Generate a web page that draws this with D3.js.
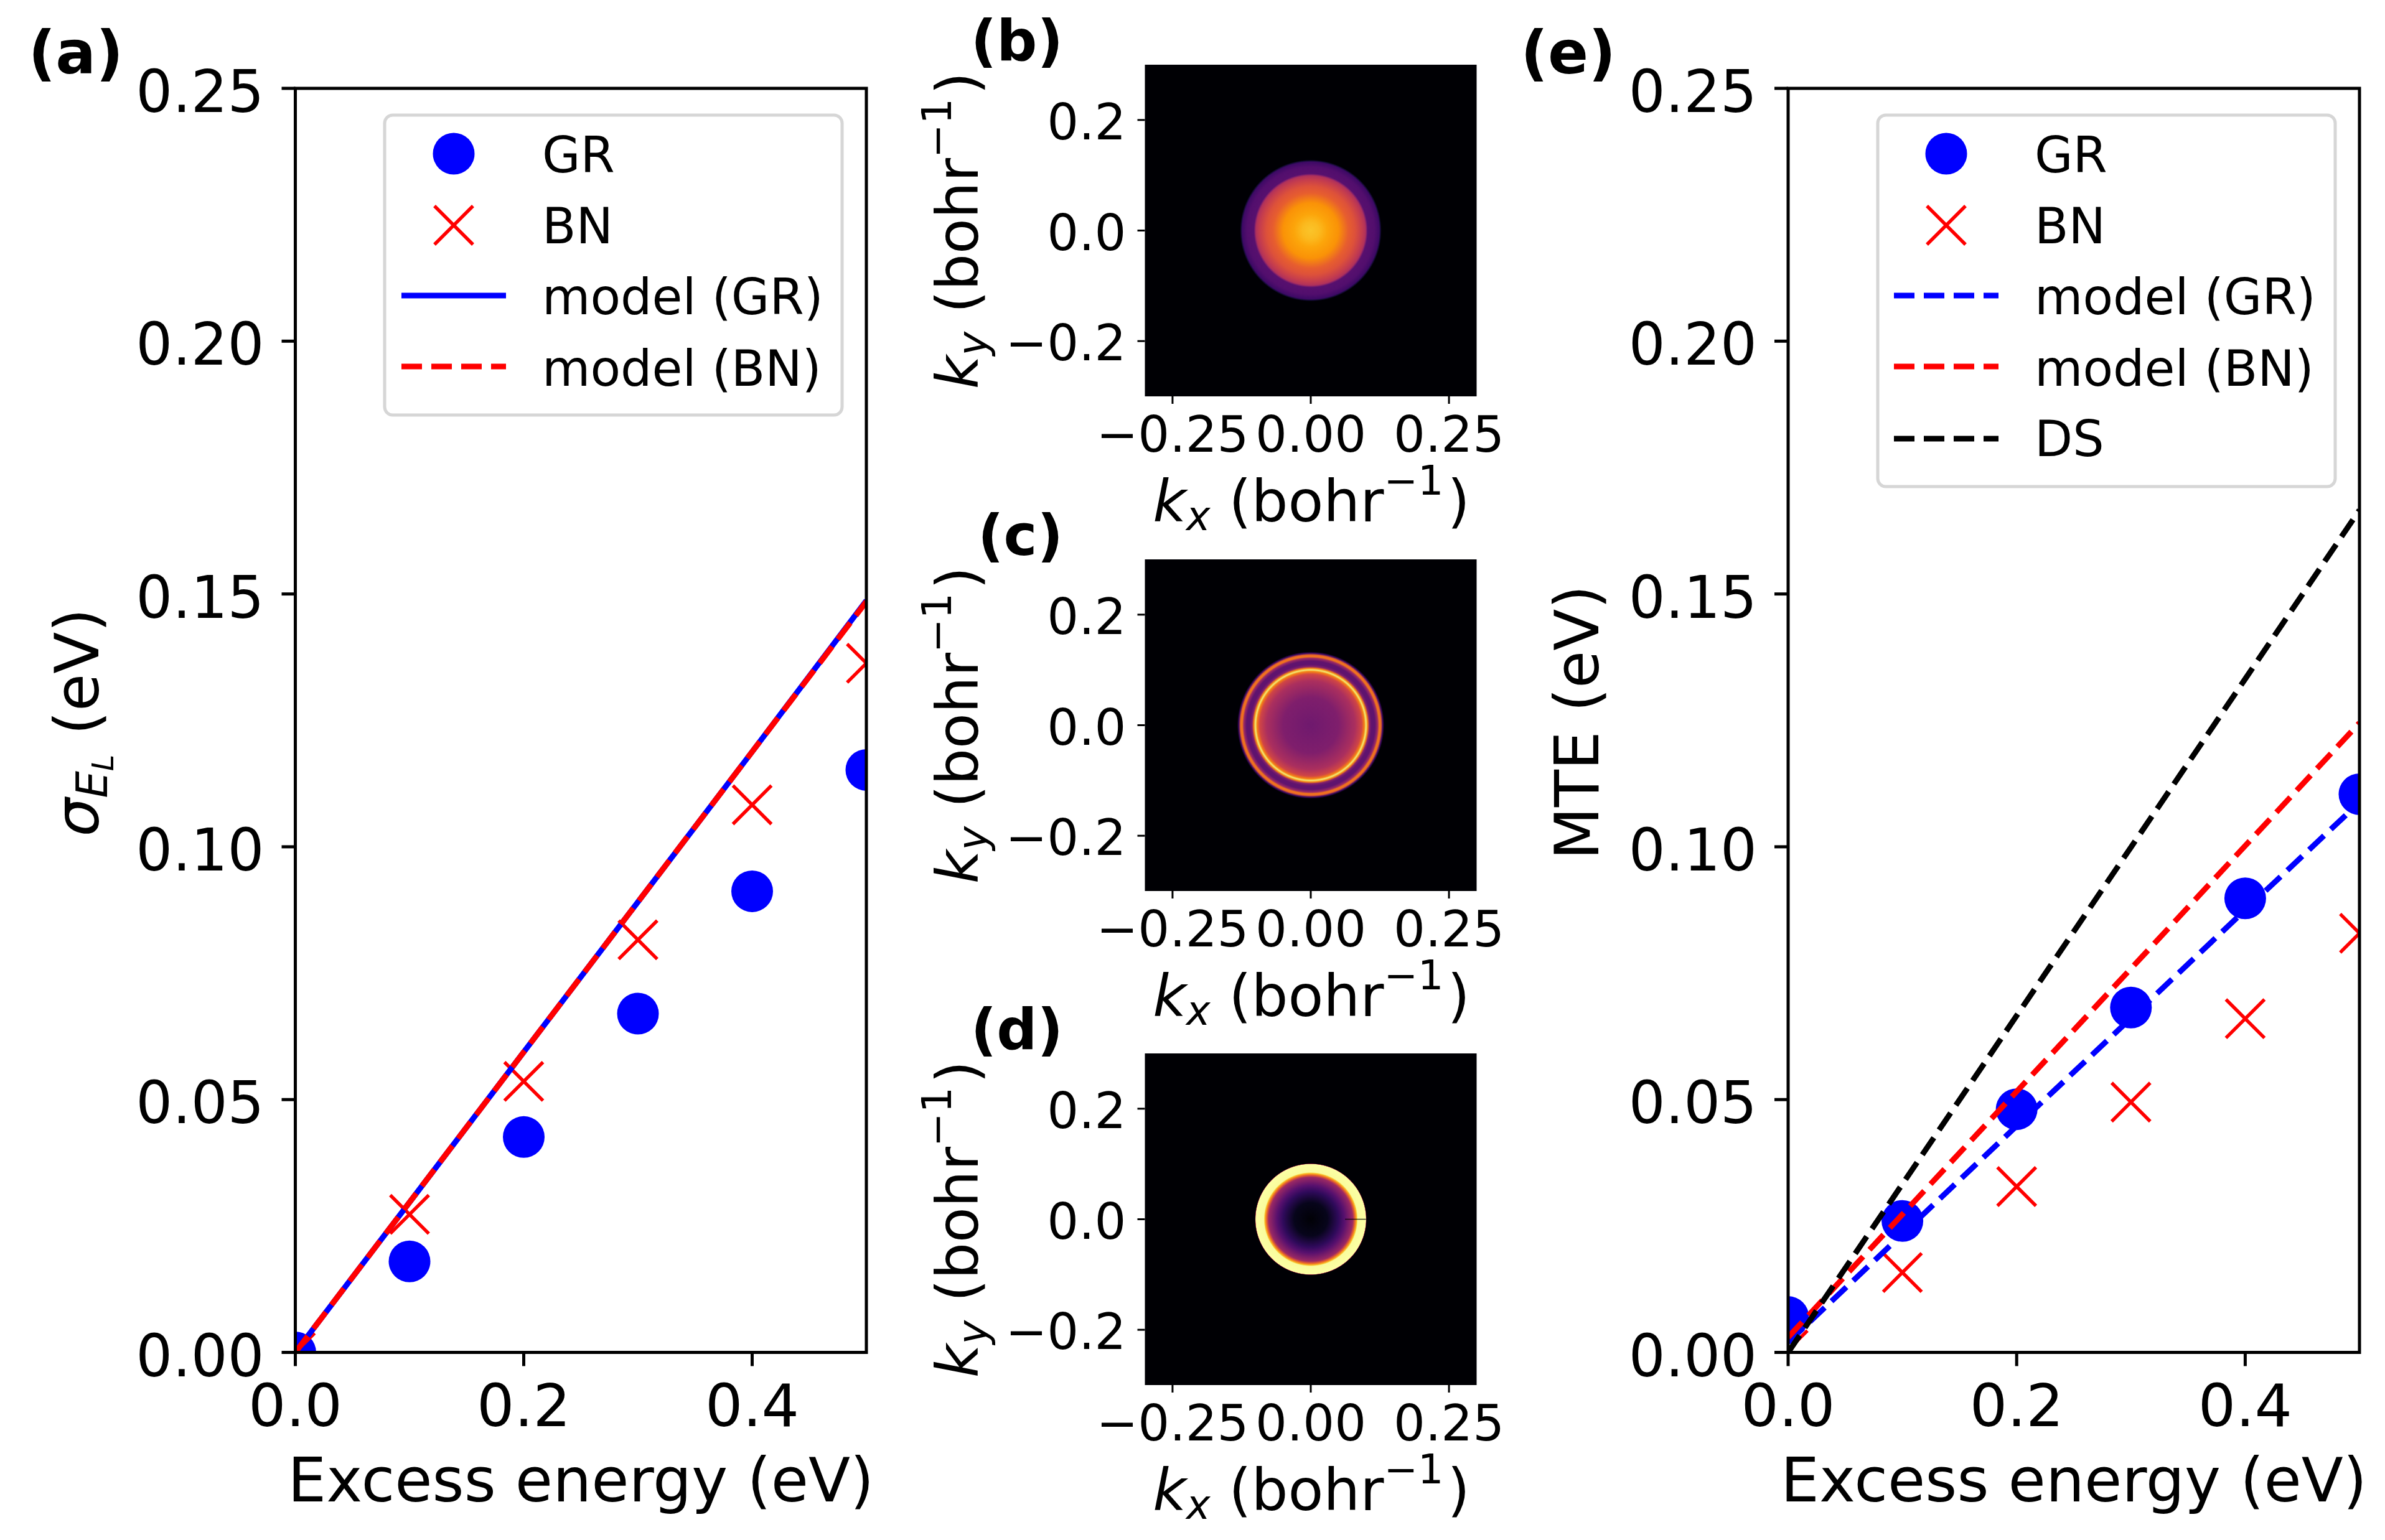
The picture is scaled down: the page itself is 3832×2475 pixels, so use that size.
<!DOCTYPE html>
<html>
<head>
<meta charset="utf-8">
<script src="https://cdn.jsdelivr.net/npm/d3@7"></script>
<style>
  html, body { margin: 0; background: #fff; }
  svg { display: block; }
  text { font-family: "DejaVu Sans"; fill: #000; white-space: pre; }
</style>
</head>
<body>
<div id="chart"></div>
<script>
// excess energy samples
const energy = [0, 0.1, 0.2, 0.3, 0.4, 0.5];

// panel (a)
const sigmaGR = [0.0, 0.018, 0.0426, 0.067, 0.0912, 0.1152];
const sigmaBN = [0.0, 0.0273, 0.0536, 0.0816, 0.1083, 0.1363];
const sigmaModelGR = [0, 0.0297, 0.0594, 0.0891, 0.1188, 0.1487];
const sigmaModelBN = [0, 0.0297, 0.0594, 0.0891, 0.1188, 0.1485];

// panel (e)
const mteGR = [0.007, 0.026, 0.0481, 0.0682, 0.0898, 0.1104];
const mteBN = [0.0005, 0.0158, 0.0328, 0.0495, 0.066, 0.0829];
const mteModelGR = [0.002, 0.0234, 0.0448, 0.0661, 0.0875, 0.1088];
const mteModelBN = [0.003, 0.0273, 0.0516, 0.0759, 0.1002, 0.1245];
const mteDS = [0, 0.0333, 0.0666, 0.0999, 0.1332, 0.1666];

// tick labels
const energyTicks = [0, 0.2, 0.4];
const widthTicks = [0, 0.05, 0.1, 0.15, 0.2, 0.25];
const kxTicks = [-0.25, 0, 0.25];
const kyTicks = [-0.2, 0, 0.2];

// radial momentum profiles of the three maps: radius (1/bohr), colormap level
const radiusB = [0, 0.015, 0.03, 0.05, 0.068, 0.08, 0.093, 0.099, 0.101, 0.103, 0.115, 0.124, 0.126, 0.128];
const levelB = [0.86, 0.84, 0.8, 0.76, 0.64, 0.6, 0.52, 0.47, 0.36, 0.25, 0.24, 0.19, 0.1, 0];
const radiusC = [0, 0.05, 0.08, 0.092, 0.097, 0.1, 0.103, 0.106, 0.11, 0.116, 0.121, 0.124, 0.127, 0.13, 0.133];
const levelC = [0.31, 0.35, 0.46, 0.56, 0.72, 0.95, 0.72, 0.36, 0.27, 0.27, 0.42, 0.7, 0.66, 0.2, 0];
const radiusD = [0, 0.03, 0.05, 0.061, 0.076, 0.08, 0.083, 0.085, 0.0995, 0.1, 0.101];
const levelD = [0.01, 0.05, 0.16, 0.25, 0.42, 0.66, 0.84, 0.99, 1, 0.5, 0];
const seamD = [0.062, 0.1];

const W = 3832, H = 2475;
const svg = d3.select("#chart").append("svg").attr("width", W).attr("height", H);
const defs = svg.append("defs");

const BIG = 95, LABEL = 98, LEG = 79.5, SMALL = 80, KLABEL = 93;

function addTag(label, x, y, size) {
  svg.append("text").attr("x", x).attr("y", y).attr("text-anchor", "end")
    .attr("font-size", size).attr("font-weight", "bold").text(label);
}

function styleAxis(g, size, strokeW) {
  g.select(".domain").remove();
  g.selectAll("line").attr("stroke", "#000").attr("stroke-width", strokeW);
  g.selectAll("text").attr("font-size", size).attr("font-family", "DejaVu Sans").attr("fill", "#000");
}

function marker(g, type, px) {
  // px: half extent of the glyph
  const size = type === "o" ? Math.PI * px * px : Math.pow(px / 0.6189, 2) - 1.7;
  const sym = d3.symbol().type(type === "o" ? d3.symbolCircle : d3.symbolX).size(size);
  return g.append("path").attr("d", sym())
    .attr("fill", type === "o" ? "#0000ff" : "none")
    .attr("stroke", type === "o" ? "none" : "#ff0000")
    .attr("stroke-width", type === "o" ? 0 : 5.5);
}

function drawLine(g, xs, ys, x, y, color, dash) {
  const line = d3.line().x((d, i) => x(xs[i])).y(d => y(d));
  g.append("path").attr("d", line(ys)).attr("fill", "none")
    .attr("stroke", color).attr("stroke-width", 9)
    .attr("stroke-dasharray", dash ? "33 15" : null);
}

function drawLinePanel(o) {
  const x = d3.scaleLinear().domain([0, 0.5]).range([o.left, o.right]);
  const y = d3.scaleLinear().domain([0, 0.25]).range([o.bottom, o.top]);

  defs.append("clipPath").attr("id", o.id).append("rect")
    .attr("x", o.left).attr("y", o.top)
    .attr("width", o.right - o.left).attr("height", o.bottom - o.top);
  const plot = svg.append("g").attr("clip-path", `url(#${o.id})`);

  o.gr.forEach((v, i) => marker(plot, "o", 33.5).attr("transform", `translate(${x(energy[i])},${y(v)})`));
  o.bn.forEach((v, i) => marker(plot, "x", 31).attr("transform", `translate(${x(energy[i])},${y(v)})`));
  o.lines.forEach(l => drawLine(plot, energy, l.values, x, y, l.color, l.dash));

  svg.append("rect").attr("x", o.left).attr("y", o.top)
    .attr("width", o.right - o.left).attr("height", o.bottom - o.top)
    .attr("fill", "none").attr("stroke", "#000").attr("stroke-width", 5);

  const gx = svg.append("g").attr("transform", `translate(0,${o.bottom})`)
    .call(d3.axisBottom(x).tickValues(energyTicks).tickFormat(d3.format(".1f")).tickSize(22).tickPadding(0).offset(0));
  styleAxis(gx, BIG, 5);
  gx.selectAll("text").attr("dy", 0).attr("y", 118);

  // the y tick labels are a little narrower than the plain font
  const gy = svg.append("g").attr("transform", `translate(${o.left},0)`)
    .call(d3.axisLeft(y).tickValues(widthTicks).tickFormat(d3.format(".2f")).tickSize(22).tickPadding(0).offset(0));
  styleAxis(gy, BIG, 5);
  gy.selectAll("text").attr("x", 0).attr("dy", 0).attr("transform", "translate(-50,38) scale(0.975,1)");

  svg.append("text").attr("x", (o.left + o.right) / 2).attr("y", 2413)
    .attr("text-anchor", "middle").attr("font-size", LABEL).text("Excess energy (eV)");

  // legend
  const b = o.legend;
  svg.append("rect").attr("x", b.left).attr("y", b.top).attr("rx", 13)
    .attr("width", b.right - b.left).attr("height", b.bottom - b.top)
    .attr("fill", "#fff").attr("fill-opacity", 0.8).attr("stroke", "#d6d6d6").attr("stroke-width", 5);
  const rowY = [247, 362, 475, 589, 705];
  const baseY = [277, 391, 505, 620, 733];
  b.items.forEach((it, i) => {
    if (it.kind === "o") marker(svg, "o", 33.5).attr("transform", `translate(${b.markX},${rowY[i]})`);
    else if (it.kind === "x") marker(svg, "x", 31).attr("transform", `translate(${b.markX},${rowY[i]})`);
    else {
      svg.append("line").attr("x1", b.markX - 84).attr("x2", b.markX + 84).attr("y1", rowY[i]).attr("y2", rowY[i])
        .attr("stroke", it.color).attr("stroke-width", 9)
        .attr("stroke-dasharray", it.dash ? "33 15" : null);
    }
    svg.append("text").attr("x", b.textX).attr("y", baseY[i]).attr("font-size", LEG).text(it.label);
  });
}

function kLabel(sel, sub) {
  sel.append("tspan").attr("font-style", "italic").text("k");
  sel.append("tspan").attr("font-style", "italic").attr("font-size", KLABEL * 0.7).attr("dy", 14).text(sub);
  sel.append("tspan").attr("dy", -14).text(" (bohr");
  sel.append("tspan").attr("font-size", KLABEL * 0.7).attr("dy", -43).text("\u22121");
  sel.append("tspan").attr("dy", 43).attr("dx", 6).text(")");
}

function drawMapPanel(o) {
  const left = 1839.5, right = 2372.5;
  const x = d3.scaleLinear().domain([-0.3, 0.3]).range([left, right]);
  const y = d3.scaleLinear().domain([-0.3, 0.3]).range([o.bottom, o.top]);
  const rMax = o.radius[o.radius.length - 1];

  svg.append("rect").attr("x", left).attr("y", o.top)
    .attr("width", right - left).attr("height", o.bottom - o.top)
    .attr("fill", d3.interpolateInferno(0));

  const grad = defs.append("radialGradient").attr("id", o.id).attr("gradientUnits", "userSpaceOnUse")
    .attr("cx", x(0)).attr("cy", y(0)).attr("r", x(rMax) - x(0));
  o.radius.forEach((r, i) => {
    grad.append("stop").attr("offset", r / rMax).attr("stop-color", d3.interpolateInferno(o.level[i]));
  });
  svg.append("circle").attr("cx", x(0)).attr("cy", y(0)).attr("r", x(rMax) - x(0)).attr("fill", `url(#${o.id})`);

  if (o.seam) {
    svg.append("line").attr("x1", x(o.seam[0])).attr("x2", x(o.seam[1])).attr("y1", y(0)).attr("y2", y(0))
      .attr("stroke", "#000").attr("stroke-opacity", 0.75).attr("stroke-width", 1.5);
  }

  const gx = svg.append("g").attr("transform", `translate(0,${o.bottom})`)
    .call(d3.axisBottom(x).tickValues(kxTicks).tickFormat(d3.format(".2f")).tickSize(12).tickPadding(0).offset(0));
  styleAxis(gx, SMALL, 3);
  gx.selectAll("text").attr("dy", 0).attr("y", 89);

  const gy = svg.append("g").attr("transform", `translate(${left},0)`)
    .call(d3.axisLeft(y).tickValues(kyTicks).tickFormat(d3.format(".1f")).tickSize(12).tickPadding(0).offset(0));
  styleAxis(gy, SMALL, 3);
  gy.selectAll("text").attr("dy", 31).attr("x", -30);

  kLabel(svg.append("text").attr("x", 2107).attr("y", o.bottom + 201)
    .attr("text-anchor", "middle").attr("font-size", KLABEL), "x");
  kLabel(svg.append("text").attr("transform", `translate(1570.5,${(o.top + o.bottom) / 2}) rotate(-90)`)
    .attr("text-anchor", "middle").attr("font-size", KLABEL), "y");
}

drawLinePanel({
  id: "clipA", left: 474.5, right: 1392, top: 142, bottom: 2173.5,
  gr: sigmaGR, bn: sigmaBN,
  lines: [
    { values: sigmaModelGR, color: "#0000ff", dash: false },
    { values: sigmaModelBN, color: "#ff0000", dash: true }
  ],
  legend: {
    left: 618, right: 1353, top: 185, bottom: 667, markX: 729, textX: 871,
    items: [
      { kind: "o", label: "GR" },
      { kind: "x", label: "BN" },
      { kind: "l", color: "#0000ff", dash: false, label: "model (GR)" },
      { kind: "l", color: "#ff0000", dash: true, label: "model (BN)" }
    ]
  }
});

drawLinePanel({
  id: "clipE", left: 2873, right: 3791, top: 142, bottom: 2173.5,
  gr: mteGR, bn: mteBN,
  lines: [
    { values: mteModelGR, color: "#0000ff", dash: true },
    { values: mteModelBN, color: "#ff0000", dash: true },
    { values: mteDS, color: "#000000", dash: true }
  ],
  legend: {
    left: 3017, right: 3752, top: 185, bottom: 782, markX: 3127, textX: 3269,
    items: [
      { kind: "o", label: "GR" },
      { kind: "x", label: "BN" },
      { kind: "l", color: "#0000ff", dash: true, label: "model (GR)" },
      { kind: "l", color: "#ff0000", dash: true, label: "model (BN)" },
      { kind: "l", color: "#000000", dash: true, label: "DS" }
    ]
  }
});

drawMapPanel({ id: "mapB", top: 104, bottom: 637, radius: radiusB, level: levelB });
drawMapPanel({ id: "mapC", top: 899, bottom: 1432, radius: radiusC, level: levelC });
drawMapPanel({ id: "mapD", top: 1693, bottom: 2226, radius: radiusD, level: levelD, seam: seamD });

// y labels of the outer panels
const sigmaLabel = svg.append("text").attr("transform", "translate(158,1161) rotate(-90)")
  .attr("text-anchor", "middle").attr("font-size", LABEL);
sigmaLabel.append("tspan").attr("font-style", "italic").text("\u03c3");
sigmaLabel.append("tspan").attr("font-style", "italic").attr("font-size", LABEL * 0.7).attr("dy", 14).text("E");
sigmaLabel.append("tspan").attr("font-style", "italic").attr("font-size", LABEL * 0.49).attr("dy", 10).text("L");
sigmaLabel.append("tspan").attr("dy", -24).text(" (eV)");

svg.append("text").attr("transform", "translate(2568,1161) rotate(-90)")
  .attr("text-anchor", "middle").attr("font-size", LABEL).text("MTE (eV)");

addTag("(a)", 198, 118, 96);
addTag("(b)", 1708, 97, 91);
addTag("(c)", 1708, 892, 91);
addTag("(d)", 1708, 1686, 91);
addTag("(e)", 2596, 118, 96);
</script>
</body>
</html>
